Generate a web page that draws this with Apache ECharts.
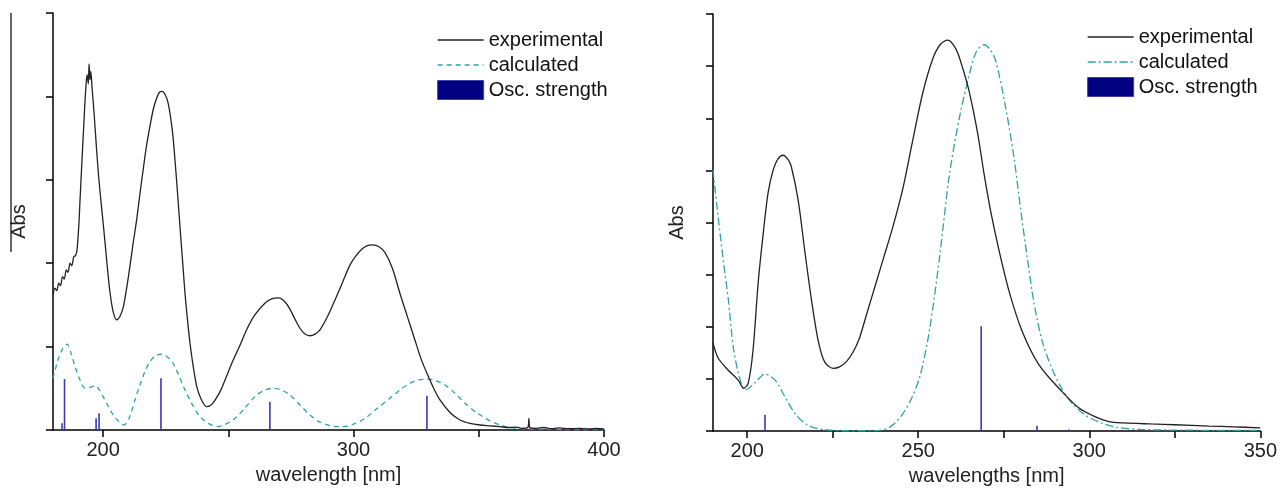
<!DOCTYPE html>
<html>
<head>
<meta charset="utf-8">
<script src="https://cdn.jsdelivr.net/npm/echarts@6/dist/echarts.min.js"></script>
<style>html,body{margin:0;padding:0;background:#fff}#c{width:1280px;height:496px}</style>
</head>
<body>
<div id="c"></div>
<script>
// ---- Left panel data: [wavelength nm, Abs] ----
const expLeft = [
 [180,1.62],[180.8,1.70],[181.5,1.67],[182.3,1.76],[183,1.73],[183.8,1.84],[184.5,1.81],[185.3,1.92],[186,1.89],[186.8,2.00],[187.5,1.97],[188.3,2.08],[189,2.09],[189.6,2.16],
 [190.3,2.45],[190.8,2.76],[191.6,3.25],[192.4,3.72],[193,4.05],[193.6,4.26],[194.1,4.15],[194.4,4.39],[194.8,4.20],[195.1,4.30],[195.6,4.10],
 [196.4,3.80],[197.2,3.45],[198,3.12],[198.8,2.85],[199.8,2.55],[200.8,2.24],[201.8,1.92],[202.8,1.64],[204,1.42],[205.4,1.32],[206.7,1.36],[208.1,1.48],[209.4,1.70],
 [210.7,1.96],[212,2.24],[213.4,2.52],[214.7,2.83],[216,3.12],[217.3,3.40],[218.7,3.64],[220,3.84],[221.4,3.98],[222.5,4.05],[223.6,4.06],[224.8,4.02],[225.8,3.94],
 [226.8,3.78],[227.8,3.55],[228.7,3.24],[229.7,2.85],[230.7,2.44],[231.7,2.04],[232.7,1.64],[233.7,1.32],[234.7,1.04],[236,0.76],[237.4,0.52],[239.3,0.36],[241.4,0.28],[243.5,0.31],
 [246.7,0.46],[248.7,0.60],[251.7,0.82],[254.7,1.02],[257.6,1.22],[260.6,1.38],[264.6,1.52],[267.5,1.575],[270.2,1.585],[272.5,1.54],[274.6,1.45],[276.6,1.33],[278.6,1.22],[280.6,1.15],[282.6,1.13],
 [284.6,1.15],[286.6,1.20],[289.6,1.36],[292.6,1.56],[295.6,1.77],[298.6,1.98],[301,2.09],[303.4,2.17],[305.5,2.21],[307.7,2.22],[310,2.20],[312.5,2.13],[315.5,1.94],
 [318.5,1.64],[321.5,1.36],[324.5,1.08],[327,0.85],[329.3,0.68],[332,0.50],[334.5,0.36],[338.5,0.21],[342.5,0.12],[346.5,0.08],[350.5,0.06],[354.5,0.05],[358.4,0.04],
 [362,0.03],[365,0.035],[367,0.02],[369.6,0.03],[370,0.14],[370.4,0.03],[373,0.02],[376,0.03],[379,0.015],[382,0.025],[386,0.015],[390,0.02],[394,0.012],[397,0.018],[400,0.012]
];
const calcLeft = [
 [180,0.62],[182,0.84],[183.8,0.97],[185.6,1.03],[187.2,0.92],[188.8,0.76],[190.8,0.60],[192.8,0.50],[194.8,0.51],[196.8,0.53],[198.5,0.48],[200,0.40],[201.8,0.30],
 [203.6,0.20],[206,0.11],[208.3,0.06],[210.5,0.15],[212.7,0.36],[214.7,0.54],[216.7,0.70],[218.7,0.82],[221,0.89],[223.5,0.91],[225.5,0.88],[227.5,0.82],[230,0.67],
 [232.7,0.48],[235.7,0.30],[238.7,0.16],[242,0.08],[245.5,0.04],[249,0.07],[252.7,0.14],[256.5,0.26],[260.6,0.40],[264,0.47],[267.8,0.50],[271.2,0.48],[274.6,0.42],
 [278.6,0.30],[282.6,0.18],[285.6,0.11],[288.6,0.07],[292,0.045],[295.8,0.04],[300,0.07],[304.6,0.14],[309.5,0.26],[314.5,0.38],[318.5,0.48],[322.5,0.56],[326,0.60],
 [329.7,0.61],[333,0.59],[336.5,0.54],[340.5,0.44],[344.5,0.32],[349.5,0.20],[354.5,0.11],[358.5,0.06],[362.4,0.03],[368,0.015],[374.4,0.01],[385,0.005],[400,0.003]
];
const oscLeft = [[183.6,0.08],[184.6,0.61],[197.2,0.14],[198.4,0.20],[223.1,0.62],[266.6,0.34],[329.3,0.41]];

// ---- Right panel data ----
const expRight = [
 [190,1.69],[191.5,1.40],[194.4,1.17],[197.3,0.98],[199,0.82],[200.3,0.92],[201.7,1.55],[203.2,2.84],[204.7,3.80],[206.1,4.57],[207.6,5.01],[209,5.22],[210.5,5.29],
 [212,5.20],[212.9,5.07],[214.9,4.43],[216.8,3.47],[218.8,2.51],[220.7,1.75],[222.6,1.33],[225.1,1.20],[227,1.23],[229,1.33],[231,1.52],[232.8,1.78],[235,2.26],
 [237.7,2.85],[240,3.35],[242.6,3.92],[245.5,4.65],[248.4,5.58],[251.3,6.48],[254.3,7.15],[256.5,7.42],[258.6,7.50],[261,7.33],[263,6.96],[264.9,6.51],[267.3,5.74],
 [269.3,4.91],[271.2,4.21],[273.7,3.44],[276.6,2.67],[280.4,1.91],[285.3,1.27],[292.1,0.75],[297,0.44],[301.8,0.27],[305.7,0.18],[310,0.155],[318,0.135],[325,0.12],
 [335,0.095],[342,0.08],[350,0.06]
];
const calcRight = [
 [190,5.01],[191.5,4.11],[193,3.28],[194.5,2.51],[195.9,1.62],[197.4,1.11],[198.8,0.81],[199.5,0.79],[202.2,0.92],[205.2,1.09],[208.1,0.98],[211,0.66],[213.9,0.34],
 [216.8,0.15],[219.7,0.06],[223.5,0.02],[228,0.005],[236,0.005],[239.5,0.02],[241,0.05],[243,0.14],[245.5,0.33],[248,0.62],[250.5,1.05],[253.2,1.90],[256.2,3.32],
 [259.1,4.91],[262,6.00],[264.9,6.83],[267,7.28],[269.3,7.41],[271,7.32],[272.7,7.09],[275.6,6.19],[278,5.24],[279.9,4.27],[281.9,3.31],[283.8,2.47],[286.3,1.71],
 [289.2,1.18],[292.1,0.80],[295,0.53],[298.9,0.30],[303.7,0.15],[308,0.07],[315,0.03],[330,0.015],[350,0.01]
];
const oscRight = [[205.2,0.31],[268.4,2.01],[284.7,0.10],[294,0.03]];

// ---- Axis ticks / labels ----
const xTicksLeft = [200,250,300,350,400];
const xLabelsLeft = [200,300,400];
const xTicksRight = [200,225,250,275,300,325,350];
const xLabelsRight = [200,250,300,350];
const seriesNames = ['experimental','calculated','Osc. strength'];

const TEAL = '#2fa3a3', BLACK = '#222', OSC = '#3a3ab4', NAVY = '#000080';
const FONT = 'Liberation Sans, Arial, sans-serif';

function xAxisOf(grid, min, max, ticks, labels, name) {
  return {
    gridIndex: grid, type: 'value', min: min, max: max,
    name: name, nameLocation: 'middle', nameGap: 35,
    nameTextStyle: {fontSize: 20, color: '#222', fontFamily: FONT},
    axisLine: {show: true, onZero: false, lineStyle: {color: '#000', width: 1.5}},
    axisTick: {show: true, customValues: ticks, length: 7, lineStyle: {color: '#000', width: 1.5}},
    axisLabel: {customValues: labels, fontSize: 20, color: '#222', margin: 10, fontFamily: FONT},
    splitLine: {show: false}
  };
}
function yAxisOf(grid, max, gap) {
  return {
    gridIndex: grid, type: 'value', min: 0, max: max, interval: 1,
    name: 'Abs', nameLocation: 'middle', nameRotate: 90, nameGap: gap,
    nameTextStyle: {fontSize: 20, color: '#222', fontFamily: FONT},
    axisLine: {show: true, lineStyle: {color: '#000', width: 1.5}},
    axisTick: {show: true, length: 7, lineStyle: {color: '#000', width: 1.5}},
    axisLabel: {show: false},
    splitLine: {show: false}
  };
}
const HIDE_SYM = {opacity: 0, color: 'rgba(0,0,0,0)', borderColor: 'rgba(0,0,0,0)', borderWidth: 0};
function legendOf(left, top, dashType) {
  return {
    orient: 'vertical', left: left, top: top, padding: 0,
    itemWidth: 46, itemHeight: 19, itemGap: 5,
    textStyle: {fontSize: 20, color: '#111', fontFamily: FONT},
    selectedMode: false,
    data: [
      {name: seriesNames[0], itemStyle: HIDE_SYM, lineStyle: {color: BLACK, width: 1.3, type: 'solid'}},
      {name: seriesNames[1], itemStyle: HIDE_SYM, lineStyle: {color: TEAL, width: 1.3, type: dashType}},
      {name: seriesNames[2], icon: 'rect', itemStyle: {color: NAVY, borderColor: '#4040a0', borderWidth: 1}}
    ]
  };
}
function lineSeries(name, data, x, color, type) {
  return {
    name: name, type: 'line', xAxisIndex: x, yAxisIndex: x, data: data,
    smooth: 0.3, symbol: 'none', showSymbol: false, animation: false,
    lineStyle: {color: color, width: 1.3, type: type}, itemStyle: {color: color}
  };
}
function oscSeries(data, x) {
  return {
    name: seriesNames[2], type: 'bar', xAxisIndex: x, yAxisIndex: x, data: data,
    barWidth: 1.6, animation: false, itemStyle: {color: OSC}
  };
}

const chart = echarts.init(document.getElementById('c'), null, {renderer: 'canvas'});
chart.setOption({
  backgroundColor: '#fff',
  animation: false,
  grid: [
    {left: 53, right: 676, top: 13, bottom: 66, containLabel: false},
    {left: 713, right: 18, top: 14, bottom: 65, containLabel: false}
  ],
  xAxis: [
    xAxisOf(0, 180, 400, xTicksLeft, xLabelsLeft, 'wavelength [nm]'),
    xAxisOf(1, 190, 350, xTicksRight, xLabelsRight, 'wavelengths [nm]')
  ],
  yAxis: [yAxisOf(0, 5, 24), yAxisOf(1, 8, 26)],
  legend: [legendOf(437, 30, [5, 4]), legendOf(1087, 27, [8, 3, 2, 3])],
  series: [
    oscSeries(oscLeft, 0),
    lineSeries(seriesNames[1], calcLeft, 0, TEAL, [5, 4]),
    lineSeries(seriesNames[0], expLeft, 0, BLACK, 'solid'),
    oscSeries(oscRight, 1),
    lineSeries(seriesNames[1], calcRight, 1, TEAL, [8, 3, 2, 3]),
    lineSeries(seriesNames[0], expRight, 1, BLACK, 'solid')
  ],
  graphic: [
    {type: 'line', shape: {x1: 11, y1: 13, x2: 11, y2: 252}, style: {stroke: '#000', lineWidth: 1.2}}
  ]
});
</script>
</body>
</html>
